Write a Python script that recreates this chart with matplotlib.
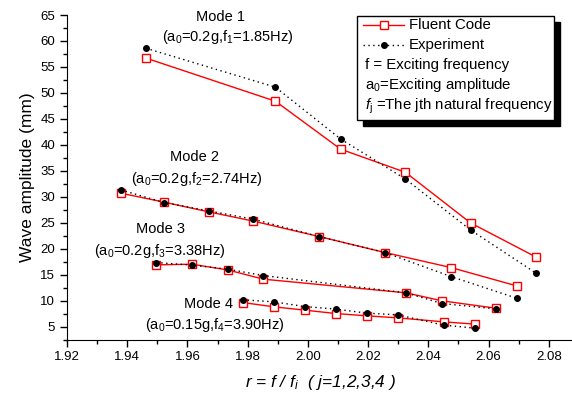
import matplotlib
matplotlib.use("Agg")
import matplotlib.pyplot as plt
from matplotlib.patches import Rectangle
from matplotlib.lines import Line2D
from matplotlib.ticker import MultipleLocator

plt.rcParams['font.family'] = ['Liberation Sans', 'DejaVu Sans']
plt.rcParams['mathtext.fontset'] = 'custom'
plt.rcParams['mathtext.rm'] = 'Liberation Sans'
plt.rcParams['mathtext.it'] = 'Liberation Sans:italic'
plt.rcParams['mathtext.bf'] = 'Liberation Sans:bold'

# Mode 1
m1_x = [1.9462, 1.9892, 2.0109, 2.0324, 2.0540, 2.0757]
m1_fluent = [56.7, 48.4, 39.15, 34.7, 24.96, 18.4]
m1_exp = [58.6, 51.1, 41.1, 33.4, 23.6, 15.3]
# Mode 2
m2_x = [1.9379, 1.9523, 1.9671, 1.9819, 2.0037, 2.0256, 2.0475, 2.0693]
m2_fluent = [30.68, 28.95, 27.08, 25.3, 22.33, 19.25, 16.36, 12.83]
m2_exp = [31.3, 28.87, 27.27, 25.67, 22.33, 19.25, 14.63, 10.46]
# Mode 3
m3_x = [1.9497, 1.9615, 1.9733, 1.9852, 2.0326, 2.0445, 2.0623]
m3_fluent = [16.88, 17.0, 15.91, 14.12, 11.49, 9.95, 8.54]
m3_exp = [17.33, 16.82, 16.05, 14.82, 11.49, 9.43, 8.41]
# Mode 4
m4_x = [1.9784, 1.9887, 1.9989, 2.0093, 2.0195, 2.0298, 2.0451, 2.0555]
m4_fluent = [9.62, 8.79, 8.16, 7.5, 7.06, 6.67, 5.9, 5.46]
m4_exp = [10.14, 9.75, 8.85, 8.35, 7.58, 7.25, 5.27, 4.69]

modes = [(m1_x, m1_fluent, m1_exp), (m2_x, m2_fluent, m2_exp),
         (m3_x, m3_fluent, m3_exp), (m4_x, m4_fluent, m4_exp)]

mode_titles = ["Mode 1", "Mode 2", "Mode 3", "Mode 4"]
mode_params = [r"(a$_0$=0.2g,f$_1$=1.85Hz)", r"(a$_0$=0.2g,f$_2$=2.74Hz)",
               r"(a$_0$=0.2g,f$_3$=3.38Hz)", r"(a$_0$=0.15g,f$_4$=3.90Hz)"]
legend_labels = ["Fluent Code", "Experiment", "f = Exciting frequency",
                 r"a$_0$=Exciting amplitude", r"$f_{\rm j}$ =The jth natural frequency"]

fig = plt.figure(figsize=(5.72, 3.93), dpi=100)
ax = fig.add_axes([67/572, 1-339.5/393, 1-67/572, (339.5-15)/393])

for x, fl, ex in modes:
    ax.plot(x, fl, color='red', lw=1, marker='s', ms=6, mfc='white',
            mec='red', mew=1, zorder=2)
    ax.plot(x, ex, color='black', lw=1, ls=(0, (1, 2.5)), marker='o', ms=4,
            mfc='black', mec='black', zorder=3)

ax.set_xlim(1.92, 2.0877)
ax.set_ylim(2.5, 65)
ax.xaxis.set_major_locator(MultipleLocator(0.02))
ax.xaxis.set_minor_locator(MultipleLocator(0.01))
ax.yaxis.set_major_locator(MultipleLocator(5))
ax.yaxis.set_minor_locator(MultipleLocator(2.5))
ax.xaxis.set_major_formatter(matplotlib.ticker.FormatStrFormatter('%.2f'))
ax.spines['top'].set_visible(False)
ax.spines['right'].set_visible(False)
ax.tick_params(which='major', direction='out', length=5, width=1, labelsize=9.5)
ax.tick_params(which='minor', direction='out', length=3, width=1)
ax.set_ylabel("Wave amplitude (mm)", fontsize=12.5, labelpad=4)

fig.text(320/572, 1-383/393, r"r = f / f$_i$  ( j=1,2,3,4 )", style='italic',
         fontsize=12.4, ha='center', va='center')

# Mode annotations (figure pixel positions)
title_pos = [(221, 17), (195, 157), (161, 229), (208, 304)]
param_pos = [(228, 37), (197, 179), (160, 251), (215, 325)]
for t, p, (tx, ty), (px, py) in zip(mode_titles, mode_params, title_pos, param_pos):
    fig.text(tx/572, 1-ty/393, t, fontsize=10.5, ha='center', va='center')
    fig.text(px/572, 1-py/393, p, fontsize=10.5, ha='center', va='center')

# Legend box with black shadow
lx0, ly0, lx1, ly1 = 357, 15.7, 554, 120
W, H = 572, 393
fig.patches.append(Rectangle(((lx0+6)/W, 1-(ly1+6)/H), (lx1-lx0)/W, (ly1-ly0)/H,
                             transform=fig.transFigure, facecolor='black',
                             edgecolor='black', zorder=10))
fig.patches.append(Rectangle((lx0/W, 1-ly1/H), (lx1-lx0)/W, (ly1-ly0)/H,
                             transform=fig.transFigure, facecolor='white',
                             edgecolor='black', lw=1, zorder=11))
rows_y = [25, 45, 65, 85, 106]
# handles
fig.lines.append(Line2D([363/W, 404/W], [1-25/H, 1-25/H], transform=fig.transFigure,
                        color='red', lw=1, zorder=12))
fig.lines.append(Line2D([383.5/W], [1-25/H], transform=fig.transFigure, color='red',
                        marker='s', ms=6, mfc='white', mec='red', mew=1, zorder=13))
fig.lines.append(Line2D([363/W, 404/W], [1-45/H, 1-45/H], transform=fig.transFigure,
                        color='black', lw=1, ls=(0, (1, 2.5)), zorder=12))
fig.lines.append(Line2D([383.5/W], [1-45/H], transform=fig.transFigure, color='black',
                        marker='o', ms=4, zorder=13))
for i, (lab, yy) in enumerate(zip(legend_labels, rows_y)):
    xx = 409 if i < 2 else 365
    fig.text(xx/W, 1-yy/H, lab, fontsize=10.8, ha='left', va='center', zorder=14)

fig.savefig("out.png", dpi=100)
